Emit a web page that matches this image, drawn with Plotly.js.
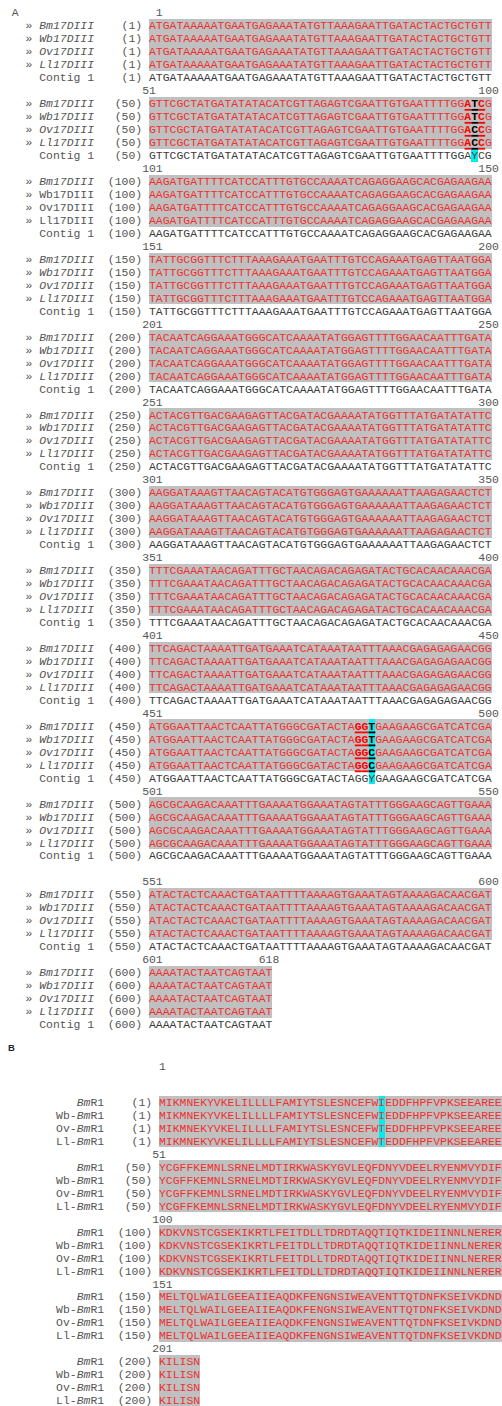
<!DOCTYPE html>
<html><head><meta charset="utf-8">
<script src="https://cdn.plot.ly/plotly-3.0.1.min.js"></script>
<style>html,body{margin:0;padding:0;background:#fff}#chart{width:502px;height:1406px}</style>
</head><body><div id="chart"></div>
<script>
// ================= DATA =================
// Panel A: nucleotide alignment
const ntNames = ['Bm17DIII', 'Wb17DIII', 'Ov17DIII', 'Ll17DIII', 'Contig 1'];
const ntBlocks = [
  'ATGATAAAAATGAATGAGAAATATGTTAAAGAATTGATACTACTGCTGTT',
  'GTTCGCTATGATATATACATCGTTAGAGTCGAATTGTGAATTTTGGATCG',
  'AAGATGATTTTCATCCATTTGTGCCAAAATCAGAGGAAGCACGAGAAGAA',
  'TATTGCGGTTTCTTTAAAGAAATGAATTTGTCCAGAAATGAGTTAATGGA',
  'TACAATCAGGAAATGGGCATCAAAATATGGAGTTTTGGAACAATTTGATA',
  'ACTACGTTGACGAAGAGTTACGATACGAAAATATGGTTTATGATATATTC',
  'AAGGATAAAGTTAACAGTACATGTGGGAGTGAAAAAATTAAGAGAACTCT',
  'TTTCGAAATAACAGATTTGCTAACAGACAGAGATACTGCACAACAAACGA',
  'TTCAGACTAAAATTGATGAAATCATAAATAATTTAAACGAGAGAGAACGG',
  'ATGGAATTAACTCAATTATGGGCGATACTAGGTGAAGAAGCGATCATCGA',
  'AGCGCAAGACAAATTTGAAAATGGAAATAGTATTTGGGAAGCAGTTGAAA',
  'ATACTACTCAAACTGATAATTTTAAAAGTGAAATAGTAAAAGACAACGAT',
  'AAAATACTAATCAGTAAT'
];
const ntStartLabels = ['1','51','101','151','201','251','301','351','401','451','501','551','601'];
const ntEndLabels   = ['50','100','150','200','250','300','350','400','450','500','550','600','618'];
const ntOffsets     = [1,50,100,150,200,250,300,350,400,450,500,550,600];
const ntUprightBlocks = [2];            // block where Wb/Ov/Ll names are not italic
const snpPos      = [98, 483];          // variable nucleotide positions
const snpAlleles  = [['T','T','C','C','Y'], ['T','T','C','C','Y']];
const codonStart  = [97, 481];          // underlined codons
const snpCyanAllRows = [false, true];

// Panel B: protein alignment
const aaNames = ['<i>Bm</i>R1', 'Wb-<i>Bm</i>R1', 'Ov-<i>Bm</i>R1', 'Ll-<i>Bm</i>R1'];
const aaBlocks = [
  'MIKMNEKYVKELILLLLFAMIYTSLESNCEFWIEDDFHPFVPKSEEAREE',
  'YCGFFKEMNLSRNELMDTIRKWASKYGVLEQFDNYVDEELRYENMVYDIF',
  'KDKVNSTCGSEKIKRTLFEITDLLTDRDTAQQTIQTKIDEIINNLNERER',
  'MELTQLWAILGEEAIIEAQDKFENGNSIWEAVENTTQTDNFKSEIVKDND',
  'KILISN'
];
const aaStartLabels = ['1','51','100','151','201'];
const aaEndLabels   = ['50','100','150','200',''];
const aaOffsets     = [1,50,100,150,200];
const aaVarPos      = [33];
const aaVarAlleles  = [['I','I','T','T']];

// ================= LAYOUT CONSTANTS =================
const W = 502, H = 1406;
const CW = 6.86, LH = 12.97;
const A_X0 = 149, B_X0 = 159, Y0 = 13.6;
const BAR_DY = -0.08, UL_DY = 0.42;
const MONO = 'Liberation Mono, Courier New, monospace';
const FS = 11.43;
const GREY = '#c0c0c0', CYAN = '#00eef0', RED = '#ee3030', HRED = '#ff0000';
const LABEL = '#555555', CONTIG = '#3a3a3a';
const NT_GAP_BEFORE = 11;
const A_END2_SHIFT = 1.6, B_END2_SHIFT = 0.15;

function ntHeaderLine(b) { return 6 * b + (b >= NT_GAP_BEFORE ? 1 : 0); }
function ntRowLine(b, r) { return ntHeaderLine(b) + 1 + r; }
function aaHeaderLine(k) { return 83 + 5 * k - (k === 0 ? 1.74 : 0); }
function aaRowLine(k, r) { return 84 + 5 * k + r; }

const traces = [];
const base = {hoverinfo: 'skip', showlegend: false};

// ---------- grey background bars ----------
function greyBars(blocks, nRows, lineFn, xa) {
  const x = [], y = [], b0 = [];
  blocks.forEach((s, b) => { for (let r = 0; r < nRows; r++) { x.push(s.length); y.push(lineFn(b, r) + BAR_DY); b0.push(0); } });
  return Object.assign({type: 'bar', orientation: 'h', x, y, base: b0, width: 1,
    marker: {color: GREY, line: {width: 0}}, xaxis: xa, yaxis: 'y'}, base);
}
traces.push(greyBars(ntBlocks, 4, ntRowLine, 'x'));
traces.push(greyBars(aaBlocks, 4, aaRowLine, 'x2'));

// ---------- cyan variant cells ----------
(function () {
  const x = [], y = [], b0 = [];
  snpPos.forEach((p, i) => {
    const b = Math.floor((p - 1) / 50), c = (p - 1) - 50 * b;
    const rows = snpCyanAllRows[i] ? [0,1,2,3,4] : [4];
    rows.forEach(r => { x.push(1); y.push(ntRowLine(b, r) + BAR_DY); b0.push(c); });
  });
  traces.push(Object.assign({type: 'bar', orientation: 'h', x, y, base: b0, width: 1,
    marker: {color: CYAN, line: {width: 0}}, xaxis: 'x', yaxis: 'y'}, base));
  const x2 = [], y2 = [], b2 = [];
  aaVarPos.forEach((p, i) => {
    const k = Math.floor((p - 1) / 50), c = (p - 1) - 50 * k;
    for (let r = 0; r < 4; r++) { x2.push(1); y2.push(aaRowLine(k, r) + BAR_DY); b2.push(c); }
  });
  traces.push(Object.assign({type: 'bar', orientation: 'h', x: x2, y: y2, base: b2, width: 1,
    marker: {color: CYAN, line: {width: 0}}, xaxis: 'x2', yaxis: 'y'}, base));
})();

// ---------- underlines ----------
(function () {
  const rx = [], ry = [], kx = [], ky = [];
  codonStart.forEach((cs, i) => {
    for (let p = cs; p < cs + 3; p++) {
      const b = Math.floor((p - 1) / 50), c = (p - 1) - 50 * b;
      for (let r = 0; r < 4; r++) {
        const yy = ntRowLine(b, r) + UL_DY;
        const tx = (p === snpPos[i]) ? kx : rx, ty = (p === snpPos[i]) ? ky : ry;
        tx.push(c, c + 1, null); ty.push(yy, yy, null);
      }
    }
  });
  traces.push(Object.assign({type: 'scatter', mode: 'lines', x: rx, y: ry, line: {color: HRED, width: 1.8},
    xaxis: 'x', yaxis: 'y'}, base));
  traces.push(Object.assign({type: 'scatter', mode: 'lines', x: kx, y: ky, line: {color: '#000', width: 1.8},
    xaxis: 'x', yaxis: 'y'}, base));
})();

// ---------- sequence text ----------
function ntRowHtml(seq, blockStart, row) {
  const chars = seq.split('');
  snpPos.forEach((p, i) => { const c = p - blockStart; if (c >= 0 && c < chars.length) chars[c] = snpAlleles[i][row]; });
  if (row === 4) return chars.join('');
  let out = '';
  chars.forEach((ch, c) => {
    const pos = blockStart + c;
    let k = -1;
    codonStart.forEach((cs, i) => { if (pos >= cs && pos < cs + 3) k = i; });
    if (k < 0) out += ch;
    else if (pos === snpPos[k]) out += '<b><span style="color:#000">' + ch + '</span></b>';
    else out += '<b><span style="color:' + HRED + '">' + ch + '</span></b>';
  });
  return out;
}
(function () {
  const x = [], y = [], t = [], col = [];
  ntBlocks.forEach((s, b) => {
    const start = 1 + 50 * b;
    for (let r = 0; r < 5; r++) {
      x.push(0); y.push(ntRowLine(b, r)); t.push(ntRowHtml(s, start, r)); col.push(r === 4 ? CONTIG : RED);
    }
  });
  traces.push(Object.assign({type: 'scatter', mode: 'text', x, y, text: t, textposition: 'middle right',
    textfont: {family: MONO, size: FS, color: col}, cliponaxis: false, xaxis: 'x', yaxis: 'y'}, base));

  const x2 = [], y2 = [], t2 = [];
  aaBlocks.forEach((s, k) => {
    for (let r = 0; r < 4; r++) {
      const chars = s.split('');
      aaVarPos.forEach((p, i) => { const c = p - 1 - 50 * k; if (c >= 0 && c < chars.length) chars[c] = aaVarAlleles[i][r]; });
      x2.push(0); y2.push(aaRowLine(k, r)); t2.push(chars.join(''));
    }
  });
  traces.push(Object.assign({type: 'scatter', mode: 'text', x: x2, y: y2, text: t2, textposition: 'middle right',
    textfont: {family: MONO, size: FS, color: RED}, cliponaxis: true, xaxis: 'x2', yaxis: 'y'}, base));
})();

// ---------- labels: names, offsets, headers ----------
(function () {
  const nx = [], ny = [], nt = [];
  const ox = [], oy = [], ot = [];
  ntBlocks.forEach((s, b) => {
    for (let r = 0; r < 5; r++) {
      const upright = r > 0 && ntUprightBlocks.indexOf(b) >= 0;
      if (r < 4) { nx.push(-18); nt.push('\u00bb ' + (upright ? ntNames[r] : '<i>' + ntNames[r] + '</i>')); }
      else { nx.push(-16); nt.push(ntNames[r]); }
      ny.push(ntRowLine(b, r));
      ox.push(-1); oy.push(ntRowLine(b, r)); ot.push('(' + ntOffsets[b] + ')');
    }
  });
  traces.push(Object.assign({type: 'scatter', mode: 'text', x: nx, y: ny, text: nt, textposition: 'middle right',
    textfont: {family: MONO, size: FS, color: LABEL}, cliponaxis: false, xaxis: 'x', yaxis: 'y'}, base));
  traces.push(Object.assign({type: 'scatter', mode: 'text', x: ox, y: oy, text: ot, textposition: 'middle left',
    textfont: {family: MONO, size: FS, color: LABEL}, cliponaxis: false, xaxis: 'x', yaxis: 'y'}, base));
  const hx = [], hy = [], ht = [], hp = [];
  ntBlocks.forEach((s, b) => {
    const sl = ntStartLabels[b], el = ntEndLabels[b];
    hx.push(sl.length === 1 ? 1 : -1); hy.push(ntHeaderLine(b)); ht.push(sl); hp.push('middle right');
    hx.push(s.length + (el.length === 2 ? A_END2_SHIFT : 1)); hy.push(ntHeaderLine(b)); ht.push(el); hp.push('middle left');
  });
  hx.push(-20); hy.push(0); ht.push('A'); hp.push('middle right');
  traces.push(Object.assign({type: 'scatter', mode: 'text', x: hx, y: hy, text: ht, textposition: hp,
    textfont: {family: MONO, size: FS, color: LABEL}, cliponaxis: false, xaxis: 'x', yaxis: 'y'}, base));

  const bx = [], by = [], bt = [], bp = [];
  aaBlocks.forEach((s, k) => {
    for (let r = 0; r < 4; r++) {
      bx.push(-8); by.push(aaRowLine(k, r)); bt.push(aaNames[r]); bp.push('middle left');
      bx.push(-1); by.push(aaRowLine(k, r)); bt.push('(' + aaOffsets[k] + ')'); bp.push('middle left');
    }
    const sl = aaStartLabels[k], el = aaEndLabels[k];
    bx.push(sl.length === 1 ? 0 : -1); by.push(aaHeaderLine(k)); bt.push(sl); bp.push('middle right');
    if (el) { bx.push(s.length + (el.length === 2 ? B_END2_SHIFT : 1)); by.push(aaHeaderLine(k)); bt.push(el); bp.push('middle left'); }
  });
  traces.push(Object.assign({type: 'scatter', mode: 'text', x: bx, y: by, text: bt, textposition: bp,
    textfont: {family: MONO, size: FS, color: LABEL}, cliponaxis: false, xaxis: 'x2', yaxis: 'y'}, base));
  traces.push(Object.assign({type: 'scatter', mode: 'text', x: [-22], y: [79.8], text: ['<b>B</b>'],
    textposition: 'middle right', textfont: {family: 'Liberation Sans, Arial, sans-serif', size: 9.5, color: '#222'},
    cliponaxis: false, xaxis: 'x2', yaxis: 'y'}, base));
})();

const layout = {
  width: W, height: H,
  margin: {l: 0, r: 0, t: 0, b: 0, pad: 0},
  paper_bgcolor: '#ffffff', plot_bgcolor: '#ffffff',
  barmode: 'overlay', bargap: 0, showlegend: false,
  xaxis: {range: [-A_X0 / CW, (W - A_X0) / CW], visible: false, fixedrange: true},
  xaxis2: {range: [-B_X0 / CW, (W - B_X0) / CW], visible: false, fixedrange: true, overlaying: 'x', anchor: 'y'},
  yaxis: {range: [(H - Y0) / LH, -Y0 / LH], visible: false, fixedrange: true}
};
Plotly.newPlot('chart', traces, layout, {staticPlot: true, displayModeBar: false});
</script>
</body></html>
